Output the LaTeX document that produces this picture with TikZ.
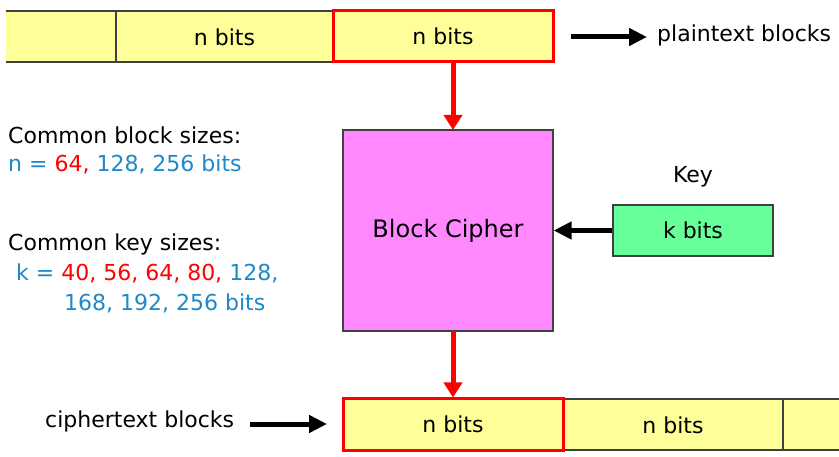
\documentclass[tikz,border=0pt]{standalone}
\usepackage{fontspec}
\setmainfont{DejaVu Sans}
\usetikzlibrary{arrows.meta}
\definecolor{cellyellow}{HTML}{FFFF99}
\definecolor{cipherpink}{HTML}{FF88FF}
\definecolor{keygreen}{HTML}{66FF99}
\definecolor{txtblue}{HTML}{1E88C8}
\definecolor{edgegray}{HTML}{404040}
\begin{document}
\begin{tikzpicture}[x=1pt,y=-1pt,
  txt/.style={font=\fontsize{22}{26}\selectfont},
  cell/.style={draw=edgegray,line width=1.3pt,fill=cellyellow,minimum width=220pt,minimum height=51pt,inner sep=0pt,txt},
  redcell/.style={cell,draw=red,line width=3pt},
  redarrow/.style={draw=red,line width=5pt,-{Triangle[length=15pt,width=18pt]}},
  blackarrow/.style={draw=black,line width=5pt,-{Triangle[length=18pt,width=17pt]}},
  lbl/.style={inner sep=0pt,txt,anchor=west}]
\useasboundingbox (0,0) rectangle (839,457);
% top bar
\fill[cellyellow] (6,11) rectangle (333,62);
\draw[edgegray,line width=1.3pt] (6,11) -- (333,11) (6,62) -- (333,62) (116,11) -- (116,62);
\node[txt] (t1) at (224.5,37) {n bits};
\node[redcell] (pt) at (443,36.5) {n bits};
% cipher
\node[draw=edgegray,line width=1.3pt,fill=cipherpink,minimum width=210pt,minimum height=201pt,inner sep=0pt,font=\fontsize{24}{28}\selectfont] (bc) at (448,230.5) {Block Cipher};
% key
\node[draw=edgegray,line width=1.3pt,fill=keygreen,minimum width=160pt,minimum height=51pt,inner sep=0pt,txt] (kb) at (693,230.5) {k bits};
\node[txt] (key) at (693,177) {Key};
% bottom bar
\fill[cellyellow] (563,399) rectangle (839,450);
\draw[edgegray,line width=1.3pt] (563,399) -- (839,399) (563,450) -- (839,450) (783,399) -- (783,450);
\node[txt] (c2) at (673,425) {n bits};
\node[redcell] (ct) at (453,424.5) {n bits};
% arrows
\coordinate (r1s) at (453,62);
\coordinate (r1e) at (453,130);
\coordinate (r2s) at (453,331);
\draw[redarrow] (r1s) -- (r1e);
\draw[redarrow] (r2s) -- (ct.north);
\draw[blackarrow] (kb.west) -- (bc.east |- kb.west);
% labels
\node[lbl] (plb) at (657,35) {plaintext blocks};
\coordinate (pa1) at (571,37);
\coordinate (pa2) at (647,37);
\draw[blackarrow] (pa1) -- (pa2);
\node[lbl] (clb) at (45,421) {ciphertext blocks};
\coordinate (ca1) at (250,424);
\coordinate (ca2) at (327,424);
\draw[blackarrow] (ca1) -- (ca2);
% left text
\node[lbl] (cb) at (8,135) {Common block sizes:};
\node[lbl] (nl) at (8,164) {\color{txtblue}n = {\color{red}64,} 128, 256 bits};
\node[lbl] (ck) at (8,244) {Common key sizes:};
\node[lbl] (kl) at (16,273) {\color{txtblue}k = {\color{red}40, 56, 64, 80,} 128,};
\node[lbl] (kl2) at (64,303) {\color{txtblue}168, 192, 256 bits};
\end{tikzpicture}
\end{document}
